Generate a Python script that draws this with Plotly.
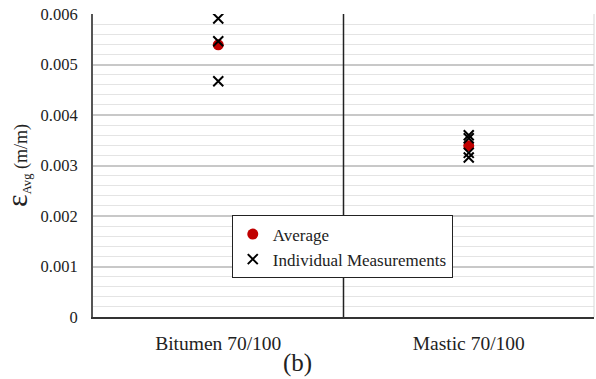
import plotly.graph_objects as go

categories = ["Bitumen 70/100", "Mastic 70/100"]
average = [0.00539, 0.00339]
indiv_bitumen = [0.00591, 0.00546, 0.00467]
indiv_mastic = [0.00360, 0.00354, 0.00325, 0.00316]
ytick_vals = [0, 0.001, 0.002, 0.003, 0.004, 0.005, 0.006]
ytick_text = ["0", "0.001", "0.002", "0.003", "0.004", "0.005", "0.006"]

FONT = "Liberation Serif"

ind_x = [categories[0]] * len(indiv_bitumen) + [categories[1]] * len(indiv_mastic)
ind_y = indiv_bitumen + indiv_mastic

fig = go.Figure()
fig.add_trace(go.Scatter(
    x=categories, y=average, mode="markers", name="Average",
    marker=dict(symbol="circle", size=11, color="#c00000"),
))
fig.add_trace(go.Scatter(
    x=ind_x, y=ind_y, mode="markers", name="Individual Measurements",
    marker=dict(symbol="x-thin", size=10, color="black",
                line=dict(width=2, color="black")),
))

fig.add_shape(type="line", xref="x", yref="paper", x0=0.5, x1=0.5, y0=0, y1=1,
              line=dict(color="#222222", width=1.5))

fig.update_layout(
    width=596, height=379,
    margin=dict(l=93, r=2, t=14, b=62, autoexpand=False),
    paper_bgcolor="white", plot_bgcolor="white",
    font=dict(family=FONT, size=16, color="#222222"),
    showlegend=True,
    legend=dict(x=0.277, y=0.335, xanchor="left", yanchor="top",
                bgcolor="white", bordercolor="#222222", borderwidth=1,
                font=dict(family=FONT, size=17, color="#222222"),
                itemwidth=30, tracegroupgap=0),
    xaxis=dict(type="category", range=[-0.5, 1.5], showgrid=False,
               showline=True, linecolor="#333333", linewidth=2,
               ticks="", tickfont=dict(family=FONT, size=19.5, color="#222222"),
               ticklabelstandoff=8, zeroline=False, mirror=False, automargin=False),
    yaxis=dict(range=[0, 0.006], tickvals=ytick_vals, ticktext=ytick_text,
               showgrid=True, gridcolor="#c8c8c8", gridwidth=1.5,
               minor=dict(dtick=0.0002, showgrid=True, gridcolor="#e4e4e4", gridwidth=1),
               showline=True, linecolor="#555555", linewidth=2,
               ticks="", ticklabelstandoff=10, zeroline=False, automargin=False,
               tickfont=dict(family=FONT, size=16.5, color="#222222"),
               title=dict(text="<span style='font-size:30px'>ε</span><sub>Avg</sub> (m/m)",
                          font=dict(family=FONT, size=18, color="#222222"), standoff=12)),
)

# faint right border
fig.add_shape(type="line", xref="paper", yref="paper", x0=1, x1=1, y0=0, y1=1,
              line=dict(color="#d8d8d8", width=1))

fig.add_annotation(text="(b)", xref="paper", yref="paper", x=0.408, y=-0.152,
                   xanchor="center", yanchor="middle", showarrow=False,
                   font=dict(family=FONT, size=25, color="#222222"))

fig.write_html("out.html", config={"displayModeBar": False},
               post_script="document.body.style.margin='0px';document.body.style.padding='0px';")
